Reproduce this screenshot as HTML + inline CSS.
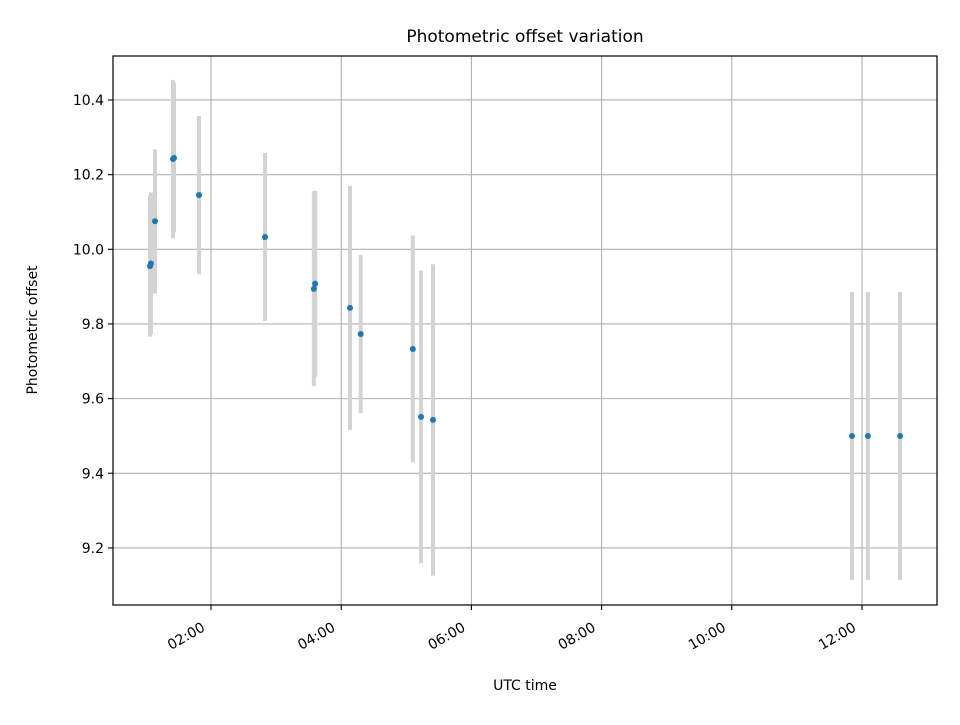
<!DOCTYPE html>
<html><head><meta charset="utf-8"><style>
body{margin:0;background:#fff;}
svg text{font-family:"DejaVu Sans","Liberation Sans",sans-serif;fill:#000;}
</style></head><body>
<svg id="chart" width="960" height="720" xmlns="http://www.w3.org/2000/svg">
<rect width="960" height="720" fill="#fff"/>
<g id="grid"></g>
<g id="errs"></g>
<g id="pts"></g>
<rect x="113" y="56" width="824" height="549" fill="none" stroke="#000" stroke-width="1.2"/>
<g id="axes"></g>
<text x="525" y="42" font-size="17" text-anchor="middle">Photometric offset variation</text>
<text x="525" y="690" font-size="14" text-anchor="middle">UTC time</text>
<text transform="translate(37,330) rotate(-90)" font-size="14" text-anchor="middle">Photometric offset</text>
</svg>
<script>
const hours=[1.063,1.078,1.14,1.416,1.432,1.816,2.83,3.58,3.60,4.135,4.30,5.10,5.226,5.41,11.846,12.09,12.585];
const offsets=[9.955,9.962,10.075,10.242,10.245,10.145,10.033,9.894,9.908,9.843,9.773,9.733,9.551,9.543,9.5,9.5,9.5];
const errors=[0.189,0.19,0.193,0.212,0.2,0.212,0.225,0.261,0.249,0.327,0.212,0.304,0.392,0.417,0.386,0.386,0.386];
const xTicks=[2,4,6,8,10,12];
const xTickLabels=["02:00","04:00","06:00","08:00","10:00","12:00"];
const yTicks=[9.2,9.4,9.6,9.8,10.0,10.2,10.4];
const yTickLabels=["9.2","9.4","9.6","9.8","10.0","10.2","10.4"];
const NS="http://www.w3.org/2000/svg";
const X=h=>211+(h-2)*65.1;
const Y=v=>249.3-(v-10)*373.3;
function mk(tag,attrs,parent){const e=document.createElementNS(NS,tag);for(const k in attrs)e.setAttribute(k,attrs[k]);document.getElementById(parent).appendChild(e);return e;}
xTicks.forEach((t,i)=>{
 const x=X(t);
 const g=mk('line',{x1:x,x2:x,y1:56,y2:605,stroke:'#b0b0b0','stroke-width':1.1},'grid');
 
 
 const tk=mk('line',{x1:x,x2:x,y1:605,y2:610,stroke:'#000','stroke-width':1.1},'axes');
 
 
 const ax=x-5, ay=630;
 const tx=mk('text',{x:ax,y:ay,'font-size':14,'text-anchor':'end',transform:`rotate(-30 ${ax} ${ay})`},'axes');
 tx.textContent=xTickLabels[i];
 
 
});
yTicks.forEach((t,i)=>{
 const y=Y(t);
 const g=mk('line',{x1:113,x2:937,y1:y,y2:y,stroke:'#b0b0b0','stroke-width':1.1},'grid');
 
 
 const tk=mk('line',{x1:108,x2:113,y1:y,y2:y,stroke:'#000','stroke-width':1.1},'axes');
 
 
 const tx=mk('text',{x:104,y:y+5,'font-size':14,'text-anchor':'end'},'axes');
 tx.textContent=yTickLabels[i];
 
 
});
hours.forEach((h,i)=>{
 const x=X(h);
 const eb=mk('line',{x1:x,x2:x,y1:Y(offsets[i]+errors[i]),y2:Y(offsets[i]-errors[i]),stroke:'#d3d3d3','stroke-width':4},'errs');
 
 
 const p=mk('circle',{cx:x,cy:Y(offsets[i]),r:3,fill:'#1f77b4'},'pts');
 
 
});
</script>
</body></html>
